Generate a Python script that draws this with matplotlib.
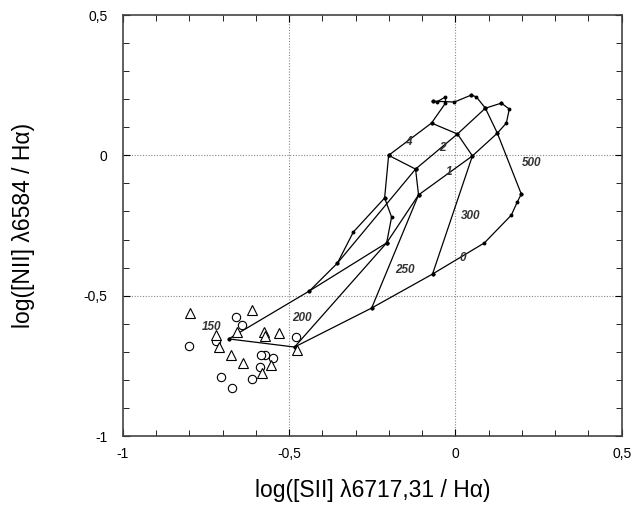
import matplotlib
matplotlib.use("Agg")
import matplotlib.pyplot as plt
from matplotlib.ticker import MultipleLocator, FuncFormatter

plt.rcParams['font.family'] = ['Liberation Sans', 'DejaVu Sans']

# shock model tracks: log([SII]/Ha), log([NII]/Ha)
b0_x = [-0.682, -0.484, -0.252, -0.069, 0.087, 0.168, 0.186, 0.198]
b0_y = [-0.654, -0.683, -0.544, -0.423, -0.312, -0.213, -0.166, -0.138]
t2_x = [-0.682, -0.439, -0.207, -0.192, -0.213, -0.201]
t2_y = [-0.654, -0.483, -0.312, -0.220, -0.152, 0.000]
t3_x = [-0.439, -0.355, -0.307, -0.213]
t3_y = [-0.483, -0.384, -0.273, -0.152]
t4_x = [-0.355, -0.120]
t4_y = [-0.384, -0.049]
t5_x = [-0.207, -0.111]
t5_y = [-0.312, -0.141]
t6_x = [-0.484, -0.207]
t6_y = [-0.683, -0.312]
v250_x = [-0.252, -0.111, -0.120, -0.201]
v250_y = [-0.544, -0.141, -0.049, 0.000]
v300_x = [-0.069, 0.051, 0.006, -0.072]
v300_y = [-0.423, -0.002, 0.076, 0.115]
b1_x = [-0.111, 0.051, 0.126, 0.153, 0.162, 0.138]
b1_y = [-0.141, -0.002, 0.079, 0.115, 0.165, 0.186]
b2_x = [-0.120, 0.006, 0.090, 0.063, 0.048]
b2_y = [-0.049, 0.076, 0.168, 0.208, 0.215]
b4_x = [-0.201, -0.072, -0.030, -0.030, -0.057, -0.069]
b4_y = [0.000, 0.115, 0.186, 0.208, 0.190, 0.193]
top_x = [-0.069, -0.003, 0.048]
top_y = [0.193, 0.190, 0.215]
v500_x = [0.198, 0.126, 0.090]
v500_y = [-0.138, 0.079, 0.168]
b1b_x = [0.138, 0.090]
b1b_y = [0.186, 0.168]

tracks = [(b0_x, b0_y), (t2_x, t2_y), (t3_x, t3_y), (t4_x, t4_y), (t5_x, t5_y),
          (t6_x, t6_y), (v250_x, v250_y), (v300_x, v300_y), (b1_x, b1_y),
          (b2_x, b2_y), (b4_x, b4_y), (top_x, top_y), (v500_x, v500_y), (b1b_x, b1b_y)]

# model labels
lab_text = ['150', '200', '250', '300', '500', '0', '1', '2', '4']
lab_x = [-0.732, -0.462, -0.153, 0.045, 0.229, 0.021, -0.018, -0.039, -0.141]
lab_y = [-0.611, -0.580, -0.409, -0.216, -0.027, -0.366, -0.060, 0.026, 0.048]

# observed objects
circ_x = [-0.801, -0.659, -0.641, -0.719, -0.705, -0.671, -0.612, -0.573, -0.589, -0.549, -0.586, -0.479]
circ_y = [-0.680, -0.577, -0.605, -0.662, -0.790, -0.829, -0.796, -0.711, -0.753, -0.723, -0.711, -0.647]
tri_x = [-0.799, -0.613, -0.532, -0.719, -0.710, -0.676, -0.640, -0.583, -0.577, -0.574, -0.556, -0.478, -0.658]
tri_y = [-0.562, -0.551, -0.633, -0.640, -0.683, -0.711, -0.740, -0.775, -0.629, -0.642, -0.747, -0.693, -0.630]

fig = plt.figure(figsize=(6.37, 5.12), dpi=100)
ax = fig.add_axes([0.193, 0.1484, 0.783, 0.8223])

for tx, ty in tracks:
    ax.plot(tx, ty, '-', color='black', lw=0.9, marker='o', ms=1.8, zorder=2)

ax.plot(circ_x, circ_y, 'o', mfc='white', mec='black', ms=6, mew=0.8, ls='none', zorder=3)
ax.plot(tri_x, tri_y, '^', mfc='white', mec='black', ms=6.5, mew=0.8, ls='none', zorder=3)

for t, x, y in zip(lab_text, lab_x, lab_y):
    ax.text(x, y, t, fontsize=8.5, fontweight='bold', style='italic', color='#333333',
            ha='center', va='center', zorder=4)

ax.set_xlim(-1, 0.5)
ax.set_ylim(-1, 0.5)
ax.xaxis.set_major_locator(MultipleLocator(0.5))
ax.yaxis.set_major_locator(MultipleLocator(0.5))
ax.xaxis.set_minor_locator(MultipleLocator(0.1))
ax.yaxis.set_minor_locator(MultipleLocator(0.1))

def comma(v, pos):
    s = ('%g' % v).replace('.', ',')
    return '0' if s in ('-0', '0') else s

ax.xaxis.set_major_formatter(FuncFormatter(comma))
ax.yaxis.set_major_formatter(FuncFormatter(comma))
ax.tick_params(which='both', direction='in', top=True, right=True, labelsize=10)
ax.tick_params(axis='x', pad=8)
ax.tick_params(axis='y', pad=11)
ax.tick_params(which='major', length=5)
ax.tick_params(which='minor', length=4)
for s in ax.spines.values():
    s.set_color('#444444')
    s.set_linewidth(1.2)

for v in [-0.5, 0]:
    ax.axvline(v, color='#888888', lw=0.8, ls=(0, (1, 1.5)), zorder=1)
    ax.axhline(v, color='#888888', lw=0.8, ls=(0, (1, 1.5)), zorder=1)

ax.set_xlabel('log([SII] \u03bb6717,31 / H\u03b1)', fontsize=16.5, labelpad=13)
ax.set_ylabel('log([NII] \u03bb6584 / H\u03b1)', fontsize=16.5, labelpad=35)

fig.savefig('out.png', dpi=100)
